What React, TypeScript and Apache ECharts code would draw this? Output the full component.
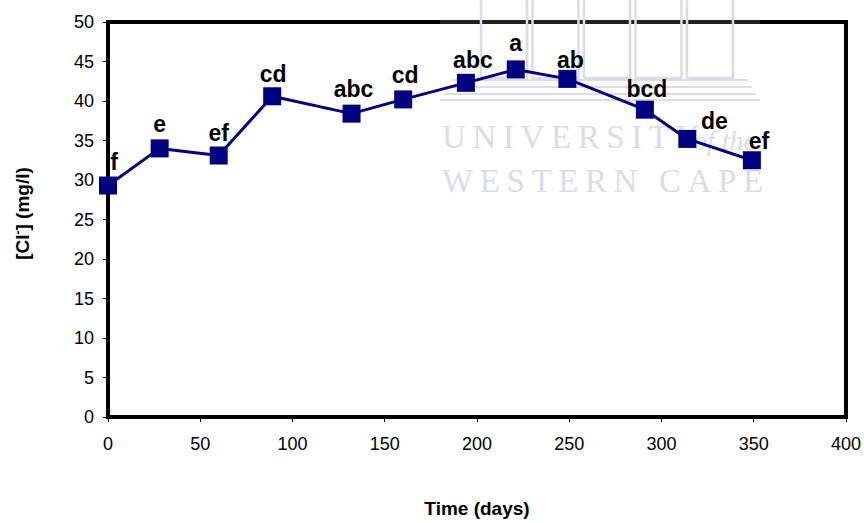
import React, { useEffect, useRef } from "react";
import * as echarts from "echarts";

// Sampling day and chloride concentration at each sampling
const days = [0, 28, 60, 89, 132, 160, 194, 221, 249, 291, 314, 349];
const chloride = [29.3, 34.0, 33.1, 40.6, 38.4, 40.2, 42.3, 44.0, 42.8, 38.9, 35.2, 32.5];
// Significance groups printed above each point
const groups = ["f", "e", "ef", "cd", "abc", "cd", "abc", "a", "ab", "bcd", "de", "ef"];
// Small per-label nudges so letters clear the line
const labelNudges: [number, number][] = [
  [6, 2], [0, 1], [0, 3], [1, 3], [2, 1], [2, 1],
  [7, 3], [0, -1], [3, 7], [2, 5], [27, 8], [7, 6],
];

const xTicks = { min: 0, max: 400, interval: 50 };
const yTicks = { min: 0, max: 50, interval: 5 };

const SANS = "'Liberation Sans', Arial, sans-serif";
const SERIF = "'Liberation Serif', 'DejaVu Serif', serif";
const NAVY = "#000080";
const WM = "#dcdce8";

const spaced = (s: string) => s.split("").join("\u2009");

export default function App() {
  const ref = useRef<HTMLDivElement>(null);

  useEffect(() => {
    if (!ref.current) return;
    const chart = echarts.init(ref.current, null, { renderer: "svg" });

    const columns = [0, 1, 2, 3, 4].map((i) => ({
      type: "rect",
      shape: { x: 481 + 51.5 * i, y: -6, width: 46, height: 84, r: [8, 8, 0, 0] },
      style: { fill: "none", stroke: WM, lineWidth: 2.5 },
      silent: true,
    }));
    const steps = [80, 87, 94, 100].map((y, i) => ({
      type: "line",
      shape: { x1: 452 - i * 4, y1: y, x2: 748 + i * 4, y2: y },
      style: { stroke: WM, lineWidth: 2 },
      silent: true,
    }));

    chart.setOption({
      animation: false,
      backgroundColor: "#ffffff",
      grid: {
        left: 108,
        right: 18,
        top: 22,
        bottom: 103,
        show: true,
        borderColor: "#000",
        borderWidth: 4,
        backgroundColor: "transparent",
      },
      xAxis: {
        type: "value",
        min: xTicks.min,
        max: xTicks.max,
        interval: xTicks.interval,
        name: "Time (days)",
        nameLocation: "middle",
        nameGap: 82,
        nameTextStyle: { fontFamily: SANS, fontWeight: "bold", fontSize: 19, color: "#000" },
        axisLine: { show: true, lineStyle: { color: "#000", width: 4 } },
        axisTick: { show: true, length: 5, lineStyle: { color: "#000", width: 1 } },
        axisLabel: { fontFamily: SANS, fontSize: 18, color: "#000", margin: 18 },
        splitLine: { show: false },
      },
      yAxis: {
        type: "value",
        min: yTicks.min,
        max: yTicks.max,
        interval: yTicks.interval,
        name: "{n|[Cl}{s|-}{n|] (mg/l)}",
        nameLocation: "middle",
        nameRotate: 90,
        nameGap: 75,
        nameTextStyle: {
          padding: [0, 0, 0, 12],
          rich: {
            n: { fontFamily: SANS, fontWeight: "bold", fontSize: 19, color: "#000" },
            s: { fontFamily: SANS, fontWeight: "bold", fontSize: 12, color: "#000", padding: [0, 0, 9, 0] },
          },
        },
        axisLine: { show: true, lineStyle: { color: "#000", width: 4 } },
        axisTick: { show: true, length: 5, lineStyle: { color: "#000", width: 1 } },
        axisLabel: { fontFamily: SANS, fontSize: 18, color: "#000", margin: 14 },
        splitLine: { show: false },
      },
      series: [
        {
          type: "line",
          data: days.map((d, i) => ({
            value: [d, chloride[i]],
            label: { offset: labelNudges[i] },
          })),
          symbol: "rect",
          symbolSize: 18,
          lineStyle: { color: NAVY, width: 3 },
          itemStyle: { color: NAVY, borderWidth: 0 },
          label: {
            show: true,
            position: "top",
            distance: 5,
            formatter: (p: any) => groups[p.dataIndex],
            fontFamily: SANS,
            fontWeight: "bold",
            fontSize: 23,
            color: "#000",
          },
          z: 3,
        },
      ],
      graphic: [
        {
          type: "group",
          z: 100,
          silent: true,
          children: [
            {
              type: "rect",
              shape: { x: 440, y: 0, width: 320, height: 196 },
              style: { fill: "rgba(255,255,255,0.13)" },
            },
            ...columns,
            ...steps,
            {
              type: "text",
              x: 442,
              y: 137,
              style: {
                text: spaced("UNIVERSITY"),
                font: `33px ${SERIF}`,
                fill: WM,
                verticalAlign: "middle",
                align: "left",
              },
            },
            {
              type: "text",
              x: 693,
              y: 140,
              style: {
                text: "of the",
                font: `italic 28px ${SERIF}`,
                fill: WM,
                verticalAlign: "middle",
                align: "left",
              },
            },
            {
              type: "text",
              x: 442,
              y: 181,
              style: {
                text: spaced("WESTERN CAPE"),
                font: `33px ${SERIF}`,
                fill: WM,
                verticalAlign: "middle",
                align: "left",
              },
            },
          ],
        },
      ],
    });

    return () => chart.dispose();
  }, []);

  return (
    <div
      ref={ref}
      style={{ position: "fixed", left: 0, top: 0, width: 864, height: 523 }}
    />
  );
}
